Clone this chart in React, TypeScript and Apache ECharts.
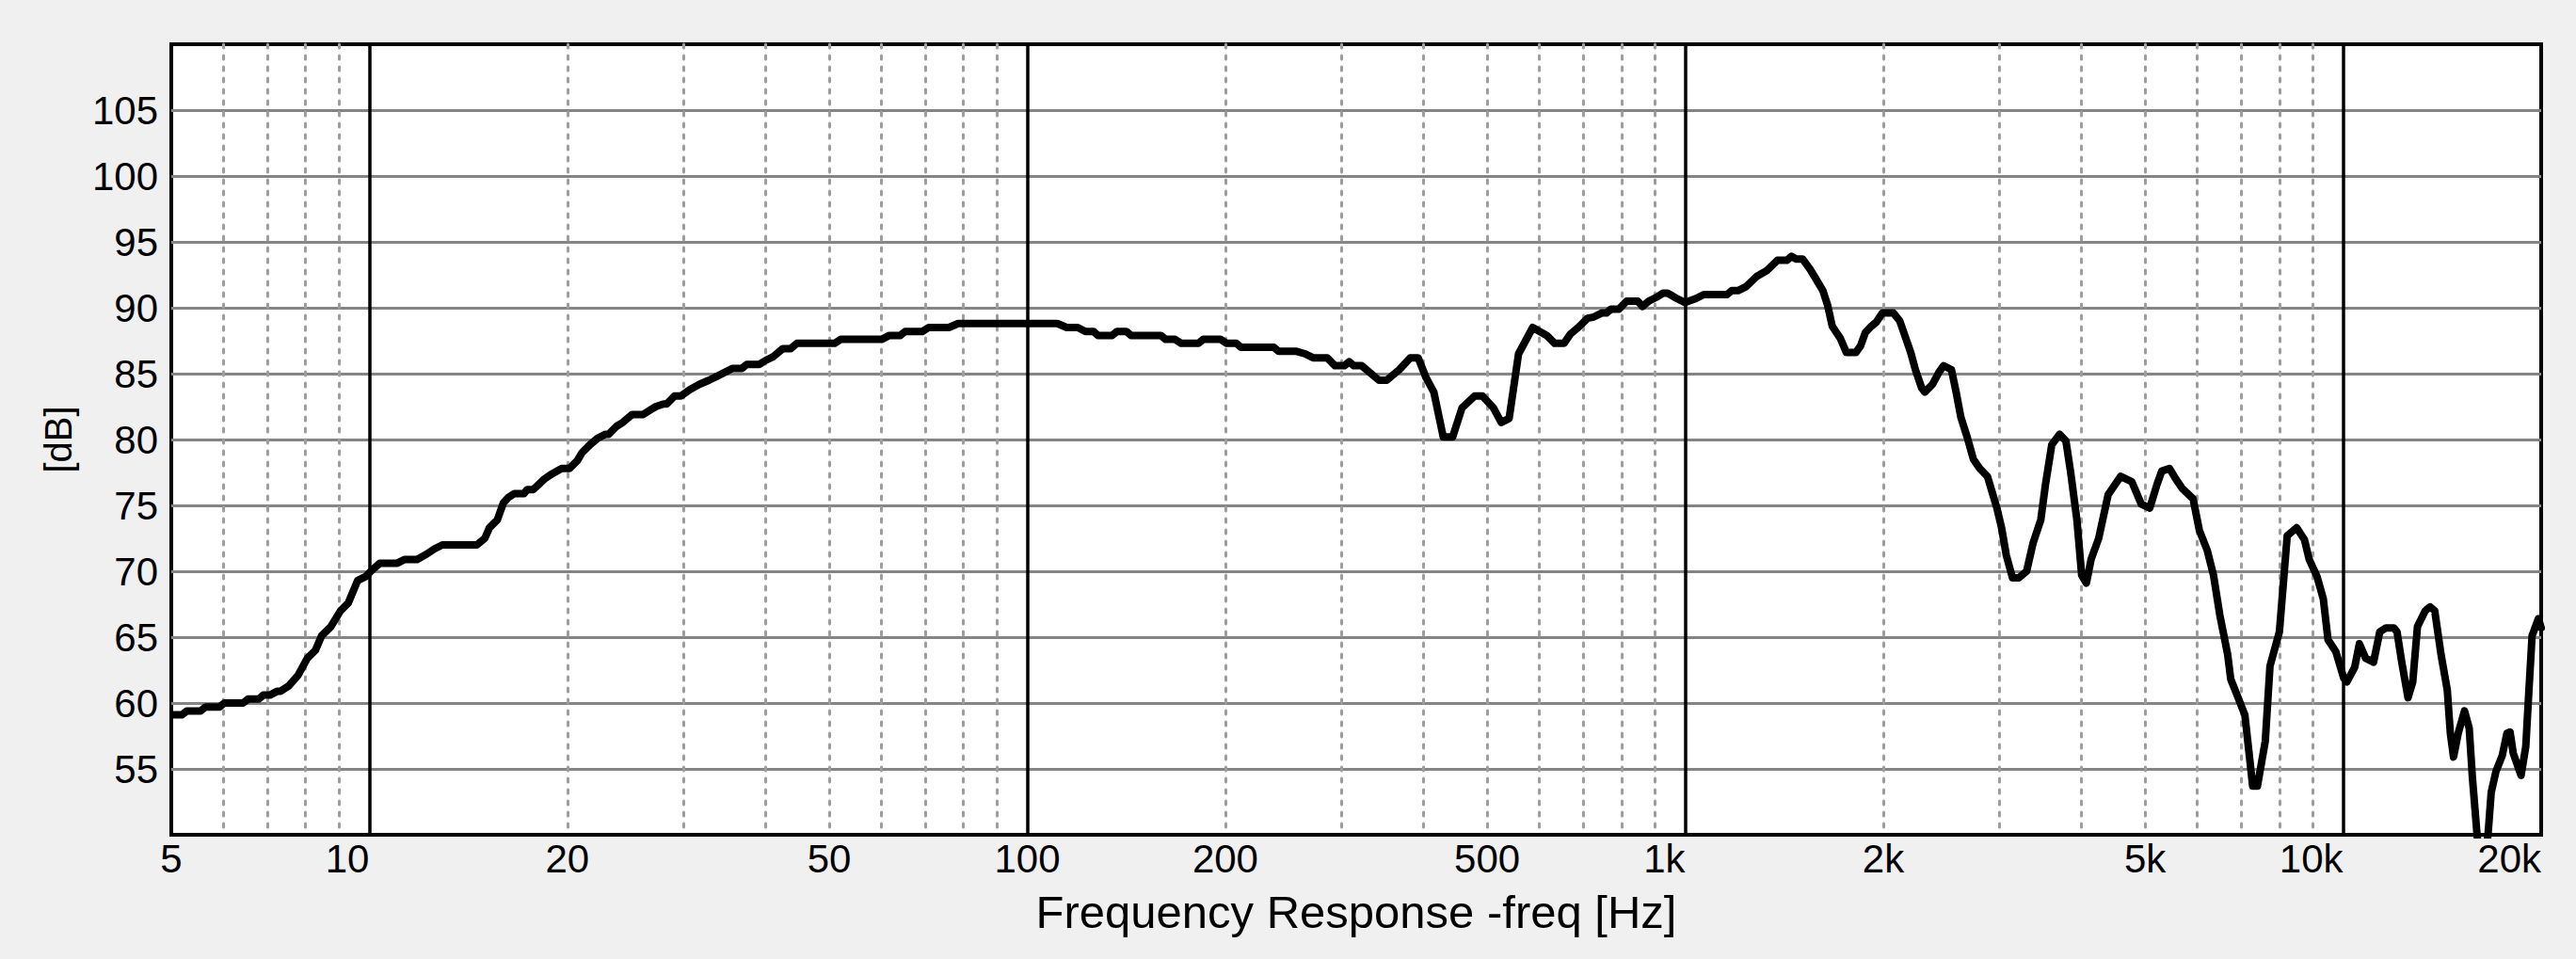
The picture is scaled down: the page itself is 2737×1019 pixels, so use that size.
import React, { useEffect, useRef } from "react";
import * as echarts from "echarts";

// ---- Frequency response data (Hz, dB) ----
const freqA = [5.05, 5.19, 5.28, 5.54, 5.64, 5.92, 6.02, 6.43, 6.54, 6.79, 6.9, 7.06, 7.25, 7.33, 7.54, 7.79, 8.05, 8.28, 8.46, 8.74, 9.04, 9.29, 9.6, 9.87, 10.15, 10.37, 11.01, 11.32, 11.82, 12.22, 12.56, 12.91, 14.57, 14.98, 15.22, 15.65, 15.99, 16.26, 16.62, 17.18, 17.37, 17.75, 18.45, 18.96];
const dbA = [59.1, 59.1, 59.4, 59.4, 59.7, 59.7, 60.0, 60.0, 60.3, 60.3, 60.6, 60.6, 60.9, 60.9, 61.3, 62.1, 63.4, 64.0, 65.1, 65.8, 67.0, 67.6, 69.3, 69.6, 70.2, 70.6, 70.6, 70.9, 70.9, 71.3, 71.7, 72.0, 72.0, 72.5, 73.3, 73.9, 75.2, 75.6, 75.9, 75.9, 76.2, 76.2, 77.0, 77.4];

const freqB = [19.6, 20.14, 20.71, 21.05, 21.64, 22.24, 22.86, 23.11, 23.75, 24.28, 25.09, 26.07, 26.66, 27.25, 28.01, 28.31, 29.1, 29.75, 30.74, 31.77, 32.83, 33.75, 34.69, 35.66, 36.85, 37.46, 39.16, 40.02, 41.14, 42.52, 43.7, 44.67, 50.94, 52.06, 60.07, 61.73, 64.14, 65.21, 69.3, 70.8, 76.0];
const dbB = [77.8, 77.8, 78.4, 79.0, 79.6, 80.1, 80.4, 80.4, 81.0, 81.3, 81.9, 81.9, 82.2, 82.5, 82.7, 82.7, 83.3, 83.3, 83.8, 84.2, 84.5, 84.8, 85.1, 85.4, 85.4, 85.7, 85.7, 86.0, 86.3, 86.9, 86.9, 87.3, 87.3, 87.6, 87.6, 87.9, 87.9, 88.2, 88.2, 88.5, 88.5];

const freqC = [78.5, 111.1, 114.8, 119.3, 122.6, 126.1, 128.1, 134.6, 136.9, 141.4, 143.8, 159.6, 162.3, 167.7, 171.4, 182.1, 185.1, 196.7, 201.0, 207.8, 211.2, 237.0, 240.9, 256.0, 264.5, 271.9, 285.6];
const dbC = [88.8, 88.8, 88.5, 88.5, 88.2, 88.2, 87.9, 87.9, 88.2, 88.2, 87.9, 87.9, 87.6, 87.6, 87.3, 87.3, 87.6, 87.6, 87.3, 87.3, 87.0, 87.0, 86.7, 86.7, 86.5, 86.2, 86.2];

const freqD = [293.6, 303.4, 308.5, 313.6, 322.3, 333.1, 342.4, 351.9, 367.7, 382.1, 392.8, 403.7, 414.9, 428.8, 443.2, 457.9, 478.5, 491.8, 511.1, 525.3, 540.0, 558.1, 586.4, 616.0, 633.3, 654.5, 669.0, 687.6, 710.7, 726.4, 746.6, 759.0, 771.6, 793.0, 815.0, 847.0, 861.1, 880.2, 904.7, 924.8, 940.1, 971.6, 998.6, 1038, 1067];
const dbD = [85.6, 85.6, 85.9, 85.6, 85.6, 85.0, 84.5, 84.5, 85.3, 86.2, 86.2, 84.7, 83.6, 80.2, 80.2, 82.4, 83.3, 83.3, 82.4, 81.3, 81.6, 86.5, 88.5, 87.9, 87.3, 87.3, 88.0, 88.5, 89.2, 89.3, 89.6, 89.6, 89.9, 89.9, 90.5, 90.5, 90.1, 90.5, 90.8, 91.1, 91.1, 90.7, 90.4, 90.7, 91.0];

const freqE = [1158, 1177, 1203, 1237, 1286, 1329, 1381, 1427, 1451, 1475, 1508, 1549, 1584, 1619, 1646, 1673, 1720, 1758, 1817, 1847, 1878, 1919, 1951, 1994, 2072, 2119, 2202, 2238, 2288, 2313, 2377, 2430, 2470, 2539, 2581, 2624, 2682, 2742, 2803, 2880, 2928, 2977, 3026, 3077, 3144, 3214, 3303, 3377, 3471, 3529, 3607, 3707, 3790, 3854, 3939, 4005, 4072, 4139, 4251, 4393, 4590, 4773];
const dbE = [91.0, 91.3, 91.3, 91.6, 92.4, 92.8, 93.6, 93.6, 93.9, 93.7, 93.7, 92.9, 92.1, 91.3, 90.2, 88.6, 87.7, 86.6, 86.6, 87.1, 88.1, 88.6, 88.9, 89.6, 89.6, 89.0, 86.6, 85.3, 83.9, 83.6, 84.2, 85.1, 85.6, 85.3, 83.6, 81.7, 80.2, 78.5, 77.8, 77.2, 76.0, 74.8, 73.3, 71.2, 69.5, 69.5, 70.0, 72.1, 73.9, 76.6, 79.6, 80.4, 79.9, 77.5, 73.9, 69.7, 69.1, 70.9, 72.5, 75.8, 77.2, 76.8];

const freqF = [4934, 5083, 5214, 5300, 5447, 5569, 5692, 5915, 6047, 6214, 6353, 6494, 6675, 6749, 6899, 7090, 7287, 7409, 7615, 7742, 8001, 8223, 8498, 8734, 8880, 9127, 9330, 9485, 9748, 10020, 10131, 10412, 10586, 10821, 11123, 11369, 11621, 11946, 12077, 12278, 12550, 12759, 12971, 13331, 13554, 13780, 14085, 14397, 14555, 14717, 14960, 15293, 15546, 15719, 15980, 16280, 16605, 16790, 17070, 17450, 17740, 17937, 18136, 18640, 18951, 19162, 19374, 19806, 20000];
const dbF = [75.1, 74.8, 76.6, 77.6, 77.8, 77.0, 76.3, 75.5, 73.1, 71.6, 69.7, 66.7, 63.7, 61.8, 60.6, 59.1, 53.7, 53.7, 57.1, 62.8, 65.4, 72.7, 73.3, 72.4, 70.9, 69.6, 67.9, 64.8, 63.9, 61.9, 61.6, 62.7, 64.5, 63.4, 63.1, 65.4, 65.7, 65.7, 65.4, 63.1, 60.4, 61.6, 65.8, 67.0, 67.3, 67.0, 63.7, 61.0, 57.7, 55.9, 57.7, 59.4, 58.1, 54.4, 50.0, 46.5, 50.0, 53.2, 54.8, 56.0, 57.7, 57.8, 56.2, 54.5, 56.7, 61.0, 65.1, 66.4, 65.7];

// ---- Axis definitions ----
const freqMin = 5;
const freqMax = 20000;
const labelFreqs = [5, 10, 20, 50, 100, 200, 500, 1000, 2000, 5000, 10000, 20000];
const labelTexts = ["5", "10", "20", "50", "100", "200", "500", "1k", "2k", "5k", "10k", "20k"];
const rightAlignedLabels = ["10", "1k", "10k", "20k"];
const minorGridFreqs = [6, 7, 8, 9, 20, 30, 40, 50, 60, 70, 80, 90, 200, 300, 400, 500, 600, 700, 800, 900, 2000, 3000, 4000, 5000, 6000, 7000, 8000, 9000];
const decadeGridFreqs = [10, 100, 1000, 10000];
const dbMin = 50;
const dbMax = 110;
const dbStep = 5;
const xTitle = "Frequency Response -freq [Hz]";
const yTitle = "[dB]";

const FONT = '"Liberation Sans", Arial, Helvetica, sans-serif';
const TICK_FONT_SIZE = 42;

function measure(text: string, size: number): number {
  try {
    const c = document.createElement("canvas");
    const ctx = c.getContext("2d");
    if (ctx) {
      ctx.font = `${size}px "Liberation Sans", Arial, sans-serif`;
      return ctx.measureText(text).width;
    }
  } catch (e) {}
  return text.length * size * 0.55;
}

export default function App() {
  const ref = useRef<HTMLDivElement | null>(null);

  useEffect(() => {
    if (!ref.current) return;
    const chart = echarts.init(ref.current, undefined, { renderer: "svg" });

    const allF = [...freqA, ...freqB, ...freqC, ...freqD, ...freqE, ...freqF];
    const allD = [...dbA, ...dbB, ...dbC, ...dbD, ...dbE, ...dbF];
    const data = allF.map((f, i) => [Math.log10(f), allD[i]]);

    const labelLog = labelFreqs.map((f) => Math.log10(f));
    const rich: Record<string, any> = {};
    labelTexts.forEach((t, i) => {
      if (rightAlignedLabels.includes(t)) {
        rich["r" + i] = {
          fontSize: TICK_FONT_SIZE,
          fontFamily: FONT,
          color: "#000",
          padding: [0, measure(t, TICK_FONT_SIZE), 0, 0],
        };
      }
    });
    const fmt = (v: number) => {
      let idx = 0;
      let best = Infinity;
      labelLog.forEach((lv, i) => {
        const d = Math.abs(lv - v);
        if (d < best) {
          best = d;
          idx = i;
        }
      });
      const t = labelTexts[idx];
      return rightAlignedLabels.includes(t) ? `{r${idx}|${t}}` : t;
    };

    const option: any = {
      animation: false,
      backgroundColor: "#f0f0f0",
      textStyle: { fontFamily: FONT },
      grid: {
        left: 182,
        right: 37,
        top: 47,
        bottom: 132,
        show: true,
        backgroundColor: "#ffffff",
        borderColor: "#000000",
        borderWidth: 4,
      },
      xAxis: [
        {
          type: "value",
          min: Math.log10(freqMin),
          max: Math.log10(freqMax),
          position: "bottom",
          name: xTitle,
          nameLocation: "middle",
          nameGap: 57,
          nameTextStyle: { fontSize: 49, color: "#000", fontFamily: FONT },
          axisLine: { show: false },
          axisTick: { show: false, customValues: minorGridFreqs.map((f) => Math.log10(f)) },
          axisLabel: {
            customValues: labelLog,
            formatter: fmt,
            rich,
            fontSize: TICK_FONT_SIZE,
            fontFamily: FONT,
            color: "#000",
            margin: 4,
          },
          splitLine: {
            show: true,
            lineStyle: { color: "#9e9e9e", width: 3, type: [4, 8], cap: "round" },
          },
        },
        {
          type: "value",
          min: Math.log10(freqMin),
          max: Math.log10(freqMax),
          position: "top",
          axisLine: { show: false },
          axisTick: { show: false, customValues: decadeGridFreqs.map((f) => Math.log10(f)) },
          axisLabel: { show: false },
          splitLine: { show: true, lineStyle: { color: "#000", width: 3.5 } },
        },
      ],
      yAxis: {
        type: "value",
        min: dbMin,
        max: dbMax,
        interval: dbStep,
        axisLine: { show: false },
        axisTick: { show: false },
        axisLabel: {
          fontSize: TICK_FONT_SIZE,
          fontFamily: FONT,
          color: "#000",
          margin: 14,
          showMinLabel: false,
          showMaxLabel: false,
        },
        splitLine: {
          show: true,
          showMinLine: false,
          showMaxLine: false,
          lineStyle: { color: "#858585", width: 3 },
        },
        name: yTitle,
        nameLocation: "middle",
        nameRotate: 90,
        nameGap: 100,
        nameTextStyle: { fontSize: 40, color: "#000", fontFamily: FONT },
      },
      series: [
        {
          type: "line",
          xAxisIndex: 0,
          yAxisIndex: 0,
          data,
          showSymbol: false,
          symbol: "none",
          clip: true,
          z: 5,
          lineStyle: { color: "#000", width: 8, join: "round", cap: "round" },
        },
      ],
    };

    chart.setOption(option);
    return () => {
      chart.dispose();
    };
  }, []);

  return (
    <div
      ref={ref}
      style={{ position: "fixed", left: 0, top: 0, width: 2737, height: 1019 }}
    />
  );
}
